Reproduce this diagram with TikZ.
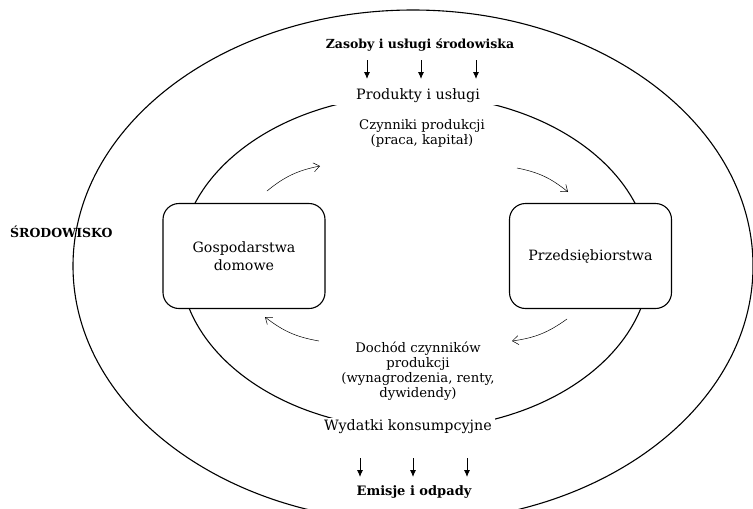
\documentclass[tikz,border=0pt]{standalone}
\usepackage{fontspec}
\setmainfont{DejaVu Serif}
\usetikzlibrary{arrows.meta}
\begin{document}
\begin{tikzpicture}[x=1pt,y=-1pt,
  ring/.style={line width=1.1pt},
  sector/.style={draw, fill=white, line width=1.1pt, rounded corners=16pt, minimum width=162pt, minimum height=105pt, align=center, font=\fontsize{14.2}{18}\selectfont},
  lbl/.style={align=center, font=\fontsize{13.2}{15}\selectfont, inner sep=1pt},
  flowlbl/.style={fill=white, align=center, font=\fontsize{14.3}{16}\selectfont, inner sep=2pt},
  heading/.style={align=center, font=\bfseries\fontsize{12.5}{15}\selectfont, inner sep=1pt},
  drop/.style={line width=0.9pt, -{Latex[length=7pt,width=6pt]}},
  flow/.style={line width=0.5pt, -{Straight Barb[length=6pt,width=9pt]}, bend left=14}]
\useasboundingbox (0,0) rectangle (753,509);
\begin{scope}
\clip (0,0) rectangle (753,509);
% environment (outer) and circular flow (inner)
\draw[ring] (413,266) ellipse [x radius=340, y radius=256];
\draw[ring] (415,262) ellipse [x radius=235, y radius=167];
\end{scope}

% sectors
\node[sector] (hh) at (244,256) {Gospodarstwa\\domowe};
\node[sector] (firm) at (590.5,256) {Przedsiębiorstwa};

% labels on the inner ring
\node[flowlbl, inner xsep=30pt] (prod) at (418,96) {Produkty i usługi};
\node[flowlbl, inner xsep=3pt] (spend) at (408,427) {Wydatki konsumpcyjne};
\node[lbl] (factors) at (422,133) {Czynniki produkcji\\(praca, kapitał)};
\node[lbl] (income) at (418,371) {Dochód czynników\\produkcji\\(wynagrodzenia, renty,\\dywidendy)};

% environment labels
\node[heading] (res) at (420,45) {Zasoby i usługi środowiska};
\node[heading, font=\bfseries\fontsize{13}{15}\selectfont] (waste) at (414,492) {Emisje i odpady};
\node[heading, anchor=west] (env) at (9,232) {ŚRODOWISKO};

% inflow from the environment
\foreach \i/\x in {1/367,2/421,3/476} {
  \coordinate (in\i a) at (\x,60);
  \coordinate (in\i b) at (\x,79);
  \draw[drop] (in\i a) -- (in\i b);
}
% outflow to the environment
\foreach \i/\x in {1/360,2/413,3/467} {
  \coordinate (out\i a) at (\x,458);
  \coordinate (out\i b) at (\x,477);
  \draw[drop] (out\i a) -- (out\i b);
}

% circular flow arrows
\coordinate (f1a) at (267,191); \coordinate (f1b) at (320,166);
\coordinate (f2a) at (517,168); \coordinate (f2b) at (568,192);
\coordinate (f3a) at (567,319); \coordinate (f3b) at (512,341);
\coordinate (f4a) at (319,341); \coordinate (f4b) at (265,317);
\draw[flow] (f1a) to (f1b);
\draw[flow] (f2a) to (f2b);
\draw[flow] (f3a) to (f3b);
\draw[flow] (f4a) to (f4b);
\end{tikzpicture}
\end{document}
